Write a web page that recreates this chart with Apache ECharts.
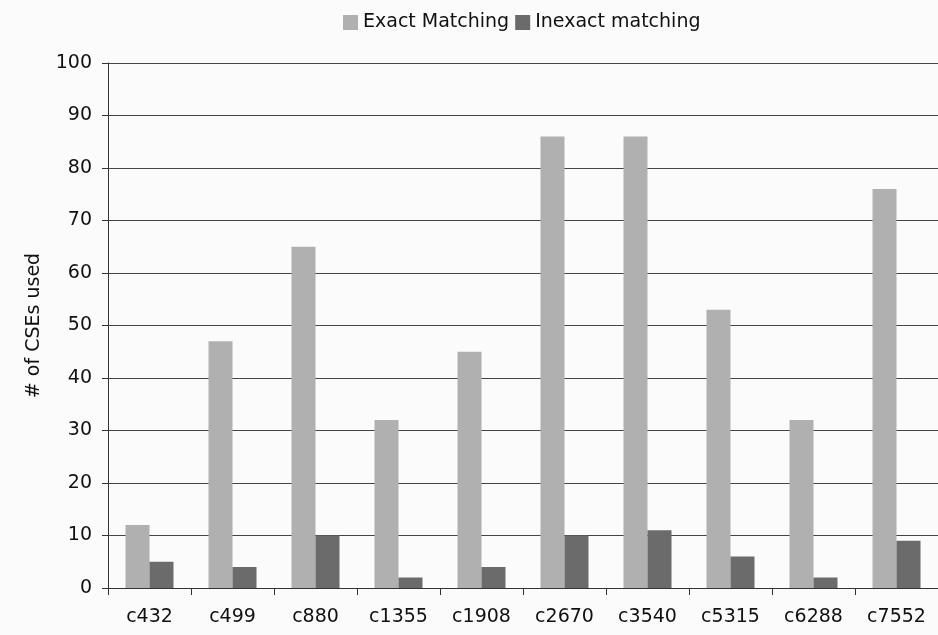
<!DOCTYPE html>
<html>
<head>
<meta charset="utf-8">
<script src="https://cdn.jsdelivr.net/npm/echarts@6/dist/echarts.min.js"></script>
<style>
  html, body { margin: 0; padding: 0; background: #fbfbfb; }
  #chart { width: 938px; height: 635px; }
</style>
</head>
<body>
<div id="chart"></div>
<script>
const categories = ['c432', 'c499', 'c880', 'c1355', 'c1908', 'c2670', 'c3540', 'c5315', 'c6288', 'c7552']
const exactMatching = [12, 47, 65, 32, 45, 86, 86, 53, 32, 76]
const inexactMatching = [5, 4, 10, 2, 4, 10, 11, 6, 2, 9]

const font = `'DejaVu Sans', Verdana, sans-serif`

const chart = echarts.init(document.getElementById('chart'))
chart.setOption({
  backgroundColor: '#fbfbfb',
  animation: false,
  legend: {
    left: 338,
    top: 8,
    itemWidth: 15,
    itemHeight: 15,
    itemGap: 6,
    icon: 'rect',
    textStyle: { color: '#111', fontSize: 19, fontFamily: font },
    data: ['Exact Matching', 'Inexact matching']
  },
  grid: { left: 108, right: 0, top: 63, bottom: 47, containLabel: false },
  xAxis: {
    type: 'category',
    data: categories,
    boundaryGap: true,
    axisLine: { lineStyle: { color: '#333', width: 1 } },
    axisTick: { show: true, length: 7, lineStyle: { color: '#333' } },
    axisLabel: { color: '#111', fontSize: 19, fontFamily: font, margin: 20, interval: 0 }
  },
  yAxis: {
    type: 'value',
    min: 0,
    max: 100,
    interval: 10,
    name: '# of CSEs used',
    nameLocation: 'middle',
    nameGap: 64,
    nameTextStyle: { color: '#111', fontSize: 19, fontFamily: font },
    axisLine: { show: true, lineStyle: { color: '#333' } },
    axisTick: { show: true, length: 6, lineStyle: { color: '#333' } },
    axisLabel: { color: '#111', fontSize: 19, fontFamily: font, margin: 16 },
    splitLine: { lineStyle: { color: '#444', width: 1 } }
  },
  series: [
    {
      name: 'Exact Matching',
      type: 'bar',
      barWidth: 24,
      barGap: '0%',
      itemStyle: { color: '#b0b0b0' },
      data: exactMatching
    },
    {
      name: 'Inexact matching',
      type: 'bar',
      barWidth: 24,
      barGap: '0%',
      itemStyle: { color: '#6b6b6b' },
      data: inexactMatching
    }
  ]
})
</script>
</body>
</html>
